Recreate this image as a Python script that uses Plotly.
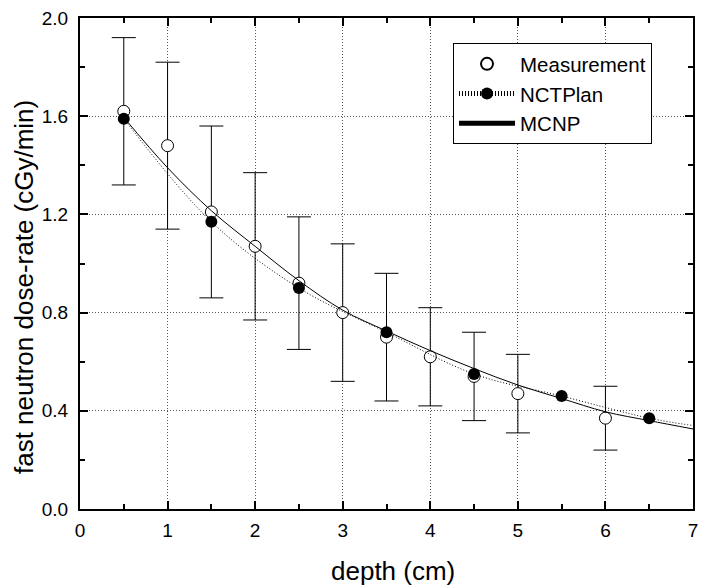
import plotly.graph_objects as go

# Measurement (open circles with error bars)
meas_x = [0.5, 1.0, 1.5, 2.0, 2.5, 3.0, 3.5, 4.0, 4.5, 5.0, 6.0]
meas_y = [1.62, 1.48, 1.21, 1.07, 0.92, 0.80, 0.70, 0.62, 0.54, 0.47, 0.37]
meas_err_plus = [0.30, 0.34, 0.35, 0.30, 0.27, 0.28, 0.26, 0.20, 0.18, 0.16, 0.13]
meas_err_minus = [0.30, 0.34, 0.35, 0.30, 0.27, 0.28, 0.26, 0.20, 0.18, 0.16, 0.13]

# NCTPlan (filled circles, dotted line)
nct_x = [0.5, 1.5, 2.5, 3.5, 4.5, 5.5, 6.5, 7.0]
nct_y = [1.59, 1.17, 0.90, 0.72, 0.55, 0.46, 0.37, 0.34]
nct_marker_size = [12, 12, 12, 12, 12, 12, 12, 0]

# MCNP (solid line)
mcnp_x = [0.5, 1.0, 1.5, 2.0, 2.5, 3.0, 3.5, 4.0, 4.5, 5.0, 5.5, 6.0, 6.5, 7.0]
mcnp_y = [1.595, 1.39, 1.215, 1.07, 0.93, 0.81, 0.725, 0.645, 0.572, 0.505, 0.45, 0.396, 0.36, 0.326]

x_ticks = [0, 1, 2, 3, 4, 5, 6, 7]
y_ticks = [0.0, 0.4, 0.8, 1.2, 1.6, 2.0]
y_tick_labels = ["0.0", "0.4", "0.8", "1.2", "1.6", "2.0"]

x_title = "depth (cm)"
y_title = "fast neutron dose-rate (cGy/min)"

FONT = "Liberation Sans, Arial, sans-serif"

fig = go.Figure()

fig.add_trace(go.Scatter(
    x=meas_x, y=meas_y, mode="markers", name="Measurement",
    marker=dict(symbol="circle", size=12, color="white", line=dict(color="black", width=1)),
    error_y=dict(type="data", symmetric=False, array=meas_err_plus, arrayminus=meas_err_minus,
                 color="#000000", thickness=1, width=12),
    cliponaxis=False,
))

fig.add_trace(go.Scatter(
    x=nct_x, y=nct_y, mode="lines+markers", name="NCTPlan",
    line=dict(color="black", width=1, dash="1px,2px", shape="spline"),
    marker=dict(symbol="circle", size=nct_marker_size, color="#000000", opacity=1,
                line=dict(color="#000000", width=0)),
))

fig.add_trace(go.Scatter(
    x=mcnp_x, y=mcnp_y, mode="lines", name="MCNP",
    line=dict(color="black", width=1, shape="spline"),
))

axis_common = dict(
    showline=True, linecolor="black", linewidth=2, mirror="allticks",
    ticks="inside", ticklen=8, tickcolor="black", tickwidth=1.5,
    showgrid=True, gridcolor="#555555", griddash="1px,2px", gridwidth=1,
    zeroline=False, automargin=False, ticklabeloverflow="allow",
    tickfont=dict(family=FONT, size=19, color="black"),
)

fig.update_xaxes(
    range=[0, 7], tickvals=x_ticks, ticktext=[str(v) for v in x_ticks],
    minor=dict(dtick=0.5, tick0=0, ticks="inside", ticklen=5, tickcolor="black", showgrid=False),
    ticklabelstandoff=3,
    **axis_common,
)
fig.update_yaxes(
    range=[0, 2.0], tickvals=y_ticks, ticktext=y_tick_labels,
    minor=dict(dtick=0.2, tick0=0, ticks="inside", ticklen=5, tickcolor="black", showgrid=False),
    ticklabelstandoff=6,
    **axis_common,
)

fig.add_annotation(
    text=x_title, xref="paper", yref="paper", x=0.51, y=-0.126, xanchor="center", yanchor="middle",
    showarrow=False, font=dict(family=FONT, size=26, color="black"),
)
fig.add_annotation(
    text=y_title, xref="paper", yref="paper", x=-0.0914, y=0.452, xanchor="center", yanchor="middle",
    textangle=-90, showarrow=False, font=dict(family=FONT, size=26, color="black"),
)

fig.update_layout(
    width=691, height=578,
    margin=dict(l=72, r=6, t=10, b=77),
    plot_bgcolor="white", paper_bgcolor="white",
    font=dict(family=FONT, color="black"),
    legend=dict(
        x=0.6085, y=0.949, xanchor="left", yanchor="top",
        bgcolor="white", bordercolor="black", borderwidth=1,
        font=dict(family=FONT, size=20.5, color="black"),
        itemsizing="constant", itemwidth=56, tracegroupgap=0,
    ),
    showlegend=True,
)

fig.write_html("out.html")
